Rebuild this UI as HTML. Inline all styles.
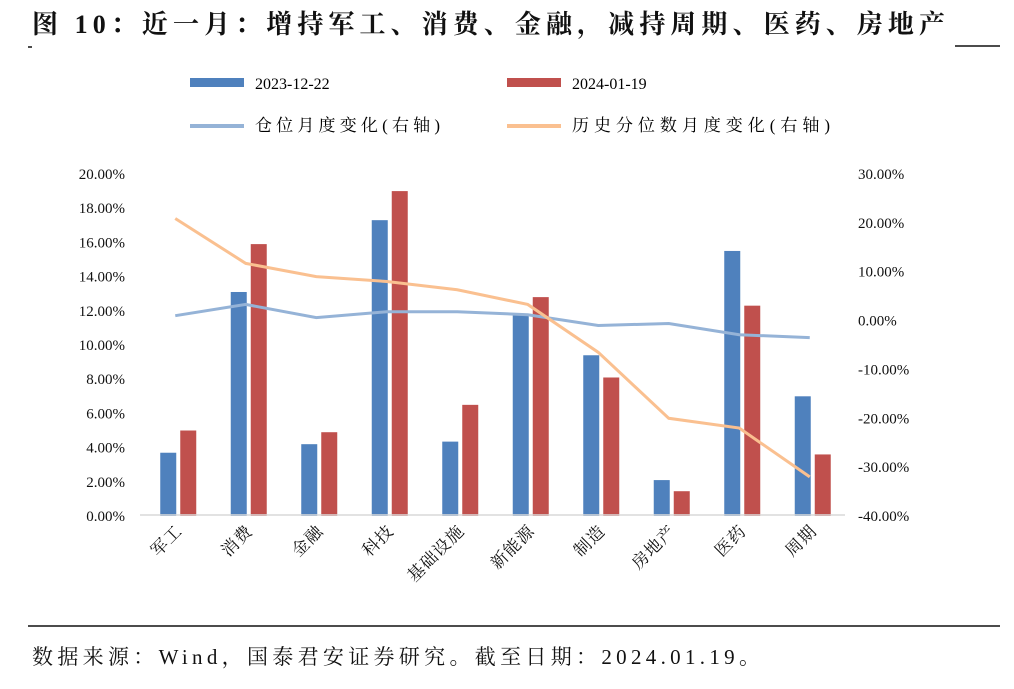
<!DOCTYPE html>
<html><head><meta charset="utf-8">
<style>
body{margin:0;background:#fff;width:1014px;height:684px;overflow:hidden;font-family:"Liberation Serif","Noto Serif CJK SC",serif;}
svg text{font-family:"Liberation Serif","Noto Serif CJK SC",serif;}
</style></head><body>
<svg id="c" width="1014" height="684">
<text x="32" y="33" font-size="26" font-weight="bold" fill="#111" textLength="913" lengthAdjust="spacing">图 10：近一月：增持军工、消费、金融，减持周期、医药、房地产</text>
<line x1="955" y1="46" x2="1000" y2="46" stroke="#111" stroke-width="1.5"/>
<line x1="28" y1="47" x2="32" y2="47" stroke="#111" stroke-width="1.5"/>
<g>
<rect x="190" y="78" width="54" height="9" fill="#4f81bd"/>
<text x="255" y="89" font-size="16">2023-12-22</text>
<rect x="507" y="78" width="54" height="9" fill="#c0504d"/>
<text x="572" y="89" font-size="16">2024-01-19</text>
<line x1="190" y1="126" x2="244" y2="126" stroke="#95b3d7" stroke-width="4"/>
<text x="255" y="131" font-size="17" textLength="185" lengthAdjust="spacing">仓位月度变化(右轴)</text>
<line x1="507" y1="126" x2="561" y2="126" stroke="#fac090" stroke-width="4"/>
<text x="572" y="131" font-size="17" textLength="258" lengthAdjust="spacing">历史分位数月度变化(右轴)</text>
</g>
<g id="plot"></g>
<line x1="28" y1="626" x2="1000" y2="626" stroke="#111" stroke-width="1.5"/>
<text x="32" y="664" font-size="21" fill="#111" textLength="728" lengthAdjust="spacing">数据来源：Wind，国泰君安证券研究。截至日期：2024.01.19。</text>
</svg>
<script>
const categories=["军工","消费","金融","科技","基础设施","新能源","制造","房地产","医药","周期"];
const s2023=[3.7,13.1,4.2,17.3,4.35,11.8,9.4,2.1,15.5,7.0];
const s2024=[5.0,15.9,4.9,19.0,6.5,12.8,8.1,1.45,12.3,3.6];
const posChange=[1.0,3.3,0.6,1.8,1.8,1.2,-1.0,-0.6,-2.9,-3.5];
const pctChange=[20.9,11.7,9.0,8.0,6.3,3.3,-6.5,-20,-22,-32];
const leftTicks=[0,2,4,6,8,10,12,14,16,18,20];
const rightTicks=[-40,-30,-20,-10,0,10,20,30];
const NS="http://www.w3.org/2000/svg";
const g=document.getElementById('plot');
const x0=140,bw=70.5,yTop=174,yBot=516;
const yL=v=>yBot-(v/20)*(yBot-yTop);
const yR=v=>yBot-((v+40)/70)*(yBot-yTop);
const xc=i=>x0+bw*(i+0.5);
function mk(t,a){const e=document.createElementNS(NS,t);for(const k in a)e.setAttribute(k,a[k]);g.appendChild(e);return e;}
leftTicks.forEach(v=>{const t=mk('text',{x:125,y:yL(v)+5,'font-size':15,'text-anchor':'end',fill:'#111'});t.textContent=v.toFixed(2)+'%';

});
rightTicks.forEach(v=>{const t=mk('text',{x:858,y:yR(v)+5,'font-size':15,fill:'#111'});t.textContent=v.toFixed(2)+'%';

});
categories.forEach((c,i)=>{
const b1=mk('rect',{x:xc(i)-15,y:yL(s2023[i]),width:16,height:yBot-yL(s2023[i]),fill:'#4f81bd'});


const b2=mk('rect',{x:xc(i)+5,y:yL(s2024[i]),width:16,height:yBot-yL(s2024[i]),fill:'#c0504d'});


const lx=xc(i)+8,ly=532;
const t=mk('text',{x:lx,y:ly,'font-size':17,'letter-spacing':1,'text-anchor':'end',transform:`rotate(-45 ${lx} ${ly})`,fill:'#111'});t.textContent=c;


});
const ax=mk('line',{x1:x0,y1:yBot-1,x2:x0+bw*10,y2:yBot-1,stroke:'#d9d9d9','stroke-width':1.5});


const l1=mk('polyline',{points:posChange.map((v,i)=>xc(i)+','+yR(v)).join(' '),fill:'none',stroke:'#95b3d7','stroke-width':3});


const l2=mk('polyline',{points:pctChange.map((v,i)=>xc(i)+','+yR(v)).join(' '),fill:'none',stroke:'#fac090','stroke-width':3});


</script>
</body></html>
